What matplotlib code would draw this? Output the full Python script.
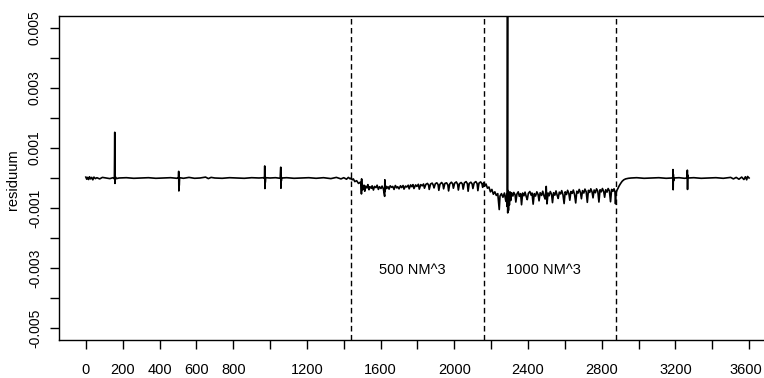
import numpy as np
import matplotlib
matplotlib.use("Agg")
import matplotlib.pyplot as plt
import matplotlib.transforms as mtrans

plt.rcParams['font.family'] = ['Liberation Sans', 'DejaVu Sans']

# residuals, (minute, value in 1e-4)
before = [
    (0, 0.3), (5, -0.4), (10, 0.2), (15, -0.5), (20, 0.4), (26, -0.3), (32, 0.2), (38, -0.6),
    (44, 0.3), (52, -0.2), (60, 0.1), (75, -0.3), (90, 0.2), (110, 0.0), (130, -0.2), (148, 0.1),
    (155, -0.3), (157, 15.2), (158, -1.8), (160, 0.4), (166, -0.2), (180, 0.0), (220, 0.1),
    (260, -0.1), (300, 0.0), (340, 0.1), (380, -0.1), (420, 0.0), (460, 0.1), (495, -0.1),
    (503, 0.2), (504, 2.2), (505, -4.3), (506, 1.0), (507, -2.5), (509, 0.1), (530, -0.1),
    (560, 0.2), (590, -0.1), (620, 0.0), (650, 0.3), (665, -0.2), (680, 0.2), (700, 0.0),
    (740, -0.1), (780, 0.1), (820, 0.0), (860, -0.1), (900, 0.1), (940, 0.0), (966, 0.1),
    (970, -0.2), (971, 4.0), (972, -3.5), (973, 2.0), (974, -1.5), (976, 0.1), (1000, 0.0),
    (1030, 0.1), (1055, -0.1), (1058, 3.6), (1059, -3.4), (1060, 1.5), (1061, -1.0), (1063, 0.0),
    (1090, 0.1), (1130, -0.1), (1170, 0.0), (1210, 0.1), (1250, -0.1), (1290, 0.1), (1330, -0.2),
    (1360, 0.2), (1385, -0.3), (1400, 0.1), (1415, -0.4), (1425, 0.2), (1435, -0.3), (1440, 0.0),
]

load500 = [
    (1446, -0.6), (1452, -0.3), (1460, -1.2), (1470, -0.9), (1480, -1.8), (1490, -1.4),
    (1495, -2.6), (1496, -5.3), (1497, -0.3), (1498, -4.0), (1500, -2.2), (1505, -3.8),
    (1510, -2.4), (1514, -4.4), (1519, -2.7), (1526, -3.3), (1531, -2.2), (1537, -3.9),
    (1542, -2.9), (1550, -3.4), (1554, -2.6), (1561, -4.0), (1567, -2.8), (1575, -3.2),
    (1581, -2.4), (1588, -3.8), (1594, -2.9), (1602, -3.5), (1608, -2.7), (1615, -3.6),
    (1622, -6.1), (1623, -0.6), (1624, -4.5), (1627, -2.6), (1633, -3.5), (1640, -2.9),
    (1646, -3.7), (1652, -2.6), (1660, -3.1), (1666, -2.8), (1673, -3.8), (1680, -2.5),
    (1688, -3.3), (1693, -2.9), (1700, -3.6), (1708, -2.6), (1714, -3.2), (1722, -2.5),
    (1727, -3.7), (1735, -2.7), (1742, -3.0), (1750, -2.4), (1755, -3.6), (1763, -2.3),
    (1770, -2.9), (1776, -2.2), (1781, -3.5), (1790, -2.3), (1797, -2.8), (1805, -2.1),
    (1810, -3.7), (1818, -2.2), (1826, -2.6), (1833, -2.0), (1838, -3.4), (1846, -2.1),
    (1854, -1.8), (1860, -2.3), (1864, -3.8), (1871, -2.0), (1880, -1.7), (1886, -2.4),
    (1890, -3.3), (1897, -1.9), (1905, -1.6), (1912, -2.2), (1916, -4.1), (1922, -2.1),
    (1931, -1.5), (1938, -2.0), (1942, -3.6), (1949, -1.8), (1958, -1.6), (1965, -2.3),
    (1969, -4.3), (1975, -2.0), (1984, -1.4), (1991, -1.9), (1995, -3.4), (2002, -1.7),
    (2011, -1.3), (2018, -2.1), (2022, -4.0), (2028, -1.9), (2037, -1.5), (2044, -2.0),
    (2048, -3.7), (2055, -1.6), (2064, -1.2), (2071, -1.9), (2075, -4.4), (2081, -1.8),
    (2090, -1.4), (2097, -2.0), (2101, -3.5), (2108, -1.6), (2117, -1.2), (2124, -1.9),
    (2128, -4.2), (2134, -1.7), (2143, -1.3), (2150, -1.9), (2154, -3.1), (2160, -1.5),
]

load1000 = [
    (2166, -2.6), (2172, -2.0), (2180, -3.4), (2188, -3.0), (2196, -4.6), (2204, -3.8),
    (2212, -5.4), (2220, -4.6), (2228, -5.8), (2236, -5.2), (2244, -10.5), (2248, -6.0),
    (2256, -5.2), (2264, -6.4), (2272, -5.0), (2280, -7.8), (2285, -5.2), (2287, -9.5),
    (2289, 60.0), (2290, -11.6), (2292, -4.2), (2294, -10.8), (2296, -5.0), (2299, -9.0),
    (2302, -4.6), (2306, -7.5), (2311, -4.9), (2318, -6.0), (2323, -4.8), (2330, -5.6),
    (2334, -8.0), (2340, -5.3), (2347, -4.6), (2353, -6.1), (2360, -5.2), (2365, -8.9),
    (2371, -5.0), (2378, -5.9), (2384, -4.7), (2391, -6.3), (2396, -7.2), (2402, -5.1),
    (2410, -4.5), (2417, -5.7), (2422, -5.0), (2428, -8.7), (2434, -5.2), (2441, -6.0),
    (2448, -4.6), (2455, -5.5), (2460, -7.6), (2466, -4.9), (2474, -5.8), (2480, -4.4),
    (2487, -6.0), (2493, -7.0), (2499, -2.8), (2503, -8.6), (2509, -5.0), (2515, -5.9),
    (2521, -4.5), (2528, -5.4), (2533, -8.2), (2539, -4.9), (2546, -5.7), (2552, -4.3),
    (2559, -5.9), (2564, -6.8), (2570, -4.7), (2577, -5.3), (2583, -4.2), (2590, -5.6),
    (2596, -8.5), (2602, -4.6), (2609, -5.5), (2615, -4.1), (2622, -5.2), (2627, -7.4),
    (2633, -4.5), (2640, -5.1), (2646, -4.0), (2653, -5.6), (2659, -8.3), (2665, -4.4),
    (2672, -5.0), (2678, -3.8), (2685, -4.9), (2690, -6.9), (2696, -4.2), (2703, -5.0),
    (2709, -3.7), (2716, -4.6), (2722, -8.1), (2728, -4.1), (2735, -4.8), (2741, -3.6),
    (2748, -4.7), (2753, -6.6), (2759, -4.0), (2766, -4.9), (2772, -3.6), (2779, -4.4),
    (2785, -8.0), (2791, -3.9), (2798, -4.6), (2804, -3.5), (2811, -4.5), (2816, -6.4),
    (2822, -3.9), (2829, -4.7), (2835, -3.5), (2842, -4.3), (2848, -7.9), (2854, -3.8),
    (2861, -4.4), (2867, -3.6), (2872, -4.6), (2875, -8.6), (2878, -5.0),
]

after = [
    (2882, -4.2), (2888, -3.5), (2895, -2.6), (2903, -1.8), (2911, -1.1), (2920, -0.6),
    (2930, -0.3), (2945, -0.1), (2960, 0.0), (2990, 0.1), (3030, -0.1), (3070, 0.0),
    (3110, 0.1), (3150, -0.1), (3180, 0.0), (3186, 0.1), (3187, 2.8), (3188, -3.9),
    (3189, 1.2), (3190, -1.0), (3192, 0.0), (3220, 0.1), (3250, -0.1), (3264, 0.0),
    (3265, 2.6), (3266, -3.8), (3267, 1.0), (3269, 0.0), (3300, 0.1), (3340, -0.1),
    (3380, 0.0), (3420, 0.1), (3460, -0.1), (3500, 0.2), (3515, -0.3), (3530, 0.2),
    (3545, -0.4), (3560, 0.3), (3572, -0.5), (3580, 0.4), (3587, -0.6), (3592, 0.5), (3600, 0.0),
]

phase_bounds = [1440, 2160, 2880]
phase_labels = ["500 NM^3", "1000 NM^3"]
label_x = [1770, 2485]
label_y = -0.00307

xticks = np.arange(0, 3601, 200)
xlabels = ["0", "200", "400", "600", "800", "", "1200", "", "1600", "", "2000", "",
           "2400", "", "2800", "", "3200", "", "3600"]
yticks = [-0.005, -0.004, -0.003, -0.002, -0.001, 0.0, 0.001, 0.002, 0.003, 0.004, 0.005]
ylabels = ["-0.005", "", "-0.003", "", "-0.001", "", "0.001", "", "0.003", "", "0.005"]

pts = np.array(before + load500 + load1000 + after)
t = pts[:, 0]
res = pts[:, 1] * 1e-4

fig = plt.figure(figsize=(7.64, 3.78), dpi=100)
ax = fig.add_axes([59.3 / 764, 1 - 340.3 / 378, 716.3 / 764, 324.6 / 378])

ax.plot(t, res, color='black', lw=1.2)
for b in phase_bounds:
    ax.axvline(b, color='black', lw=1.0, linestyle=(0, (4, 2.5)))
for x, s in zip(label_x, phase_labels):
    ax.text(x, label_y, s, ha='center', va='center', fontsize=10.5)

ax.set_xlim(-144, 3744)
ax.set_ylim(-0.0054, 0.0054)
ax.set_xticks(xticks)
ax.set_xticklabels(xlabels, fontsize=10.5)
ax.set_yticks(yticks)
ax.set_yticklabels(ylabels, fontsize=10, rotation=90, va='center')
ax.tick_params(axis='x', length=6.5, width=1, pad=9.5)
ax.tick_params(axis='y', length=6.5, width=1, pad=6)
for sp in ax.spines.values():
    sp.set_linewidth(1.0)

# last label sits at the cropped right edge, nudge it in a little
last = ax.get_xticklabels()[-1]
last.set_transform(last.get_transform() + mtrans.ScaledTranslation(-3 / 100, 0, fig.dpi_scale_trans))

fig.text(13.5 / 764, 1 - 180 / 378, "residuum", rotation=90, ha='center', va='center', fontsize=10.5)

fig.savefig("out.png", dpi=100)
